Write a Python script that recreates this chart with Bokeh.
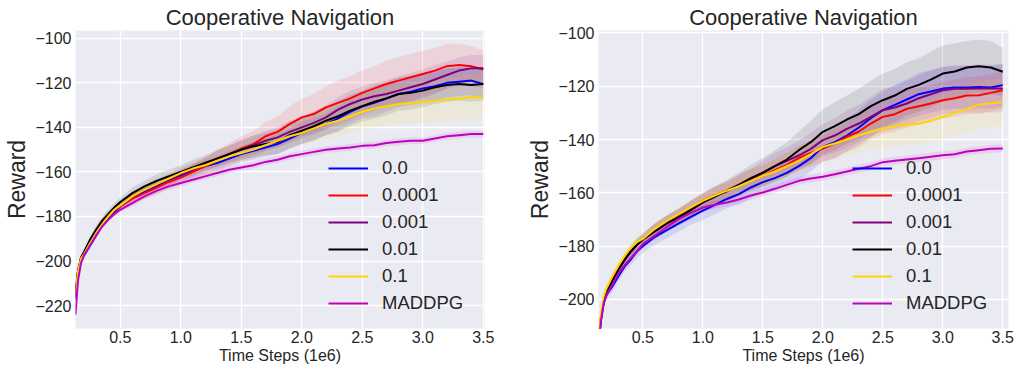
from bokeh.plotting import figure
from bokeh.layouts import row
from bokeh.models import Range1d, FixedTicker, Legend, LegendItem
from bokeh.embed import file_html
from bokeh.resources import INLINE

# ---------------- data ----------------
time_steps = [0.13, 0.15, 0.175, 0.2, 0.25, 0.3, 0.35, 0.4, 0.45, 0.5,
              0.6, 0.7, 0.8, 0.9, 1.0, 1.1, 1.2, 1.3, 1.4, 1.5,
              1.6, 1.7, 1.8, 1.9, 2.0, 2.1, 2.2, 2.3, 2.4, 2.5,
              2.6, 2.7, 2.8, 2.9, 3.0, 3.1, 3.2, 3.3, 3.4, 3.5]

labels = ["0.0", "0.0001", "0.001", "0.01", "0.1", "MADDPG"]

# left panel means
left_00 = [-217, -207, -199.5, -197.5, -193, -188.5, -184, -180.5, -178, -175.5,
           -171.5, -169, -166.5, -163.5, -161.5, -159.5, -157.5, -156, -154, -152,
           -150.5, -149, -147.5, -145, -142.5, -140.5, -138.5, -136, -133, -130.5,
           -129, -127, -125, -124, -122.5, -121.5, -120, -119.5, -119, -120.5]
left_0001 = [-214, -205, -199, -196.5, -191, -186.5, -182.5, -179.5, -177.5, -175.5,
             -172, -169.5, -167, -164.5, -162.5, -160, -157.5, -155, -152, -149.5,
             -147.5, -144, -142, -138.5, -135.5, -134, -131, -129, -127, -124.5,
             -122.5, -120.5, -119, -117.5, -116, -114.5, -112.5, -112, -112.5, -114]
left_001 = [-214, -204.5, -199, -196.5, -191.5, -187, -183, -180, -177.5, -175,
            -171, -168, -165.5, -163.5, -161, -159, -156.5, -154, -152, -150,
            -148, -146, -144.5, -142, -140, -138, -135.5, -132, -129.5, -127.5,
            -126, -125, -123.5, -122, -120.5, -118.5, -116.5, -114.5, -113.5, -113.5]
left_01 = [-215, -205, -198.5, -196, -190.5, -186, -182, -179, -176, -173.5,
           -169.5, -166.5, -164, -162, -160, -158, -156, -154, -152, -150,
           -148.5, -147.5, -146.5, -143.5, -141.5, -139.5, -137, -135, -132.5, -130.5,
           -128.5, -127, -125, -124.5, -123.5, -122, -121, -120.5, -121, -120.5]
left_1 = [-215, -205, -199, -197, -192, -187.5, -183.5, -180, -177, -175,
          -171, -168, -165.5, -163, -160.5, -158.5, -157, -155, -153, -151.5,
          -150, -148, -146, -144, -142.5, -140.5, -138.5, -137, -135, -133,
          -131.5, -130.5, -129.5, -129, -128.5, -128, -127.5, -127, -126.5, -126]
left_maddpg = [-224, -209, -201, -197.5, -193, -188.5, -184.5, -181.5, -179, -177,
               -174, -171, -168.5, -166.5, -165, -163.5, -162, -160.5, -159, -158,
               -157, -155.5, -154.5, -153, -152, -151, -150, -149.5, -149, -148.3,
               -148, -147, -146.5, -146, -146, -145, -144, -143.5, -143, -143]

# left panel band half-widths
left_00_sd = [2.5, 2, 1.5, 1.5, 1.5, 1.5, 1.5, 1.5, 1.5, 2, 2, 2, 2.5, 2.5, 2.5, 3, 3, 3, 3.5, 3.5,
              4, 4, 4.5, 4.5, 5, 5, 5, 5.5, 5.5, 5.5, 6, 6, 6, 6, 6.5, 6.5, 6.5, 6.5, 6.5, 6.5]
left_0001_sd = [2.5, 2, 1.5, 1.5, 1.5, 1.5, 2, 2, 2, 2, 2.5, 2.5, 3, 3, 3, 3.5, 4, 4.5, 5, 5.5,
                6, 6.5, 7, 8, 8.5, 9, 9.5, 10, 10, 10, 10, 10.5, 10.5, 10.5, 10.5, 10, 10, 9.5, 9, 8.5]
left_001_sd = [2.5, 2, 1.5, 1.5, 1.5, 1.5, 1.5, 1.5, 1.5, 2, 2, 2, 2.5, 2.5, 3, 3, 3, 3.5, 3.5, 4,
               4, 4.5, 4.5, 5, 5, 5, 5.5, 5.5, 6, 6, 6, 6, 6.5, 6.5, 6.5, 6.5, 6, 6, 6, 6]
left_01_sd = [2.5, 2, 1.5, 1.5, 1.5, 2, 2, 2, 2, 2, 2.5, 2.5, 3, 3, 3, 3.5, 3.5, 4, 4, 4.5,
              5, 5, 5.5, 6, 6, 6.5, 6.5, 7, 7, 7, 7.5, 7.5, 7.5, 7.5, 7.5, 7.5, 7.5, 7.5, 7.5, 7.5]
left_1_sd = [2.5, 2, 1.5, 1.5, 1.5, 1.5, 1.5, 1.5, 1.5, 2, 2, 2, 2.5, 2.5, 2.5, 3, 3, 3.5, 3.5, 4,
             4, 4.5, 5, 5, 5.5, 6, 6.5, 7, 7.5, 8, 8.5, 8.5, 9, 9, 9.5, 9.5, 10, 10, 10, 10]
left_maddpg_sd = [2, 1.5, 1.5, 1, 1, 1, 1, 1, 1, 1, 1.5, 1.5, 1.5, 1.5, 1.5, 1.5, 1.5, 1.5, 1.5, 1.5,
                  1.5, 1.5, 1.5, 1.5, 1.5, 1.5, 1.5, 1.5, 1.5, 1.5, 1.5, 1.5, 1.5, 1.5, 1.5, 1.5, 1.5, 1.5, 1.5, 1.5]

# right panel means
right_00 = [-218, -208, -201, -198, -194.8, -191, -187.5, -185, -182, -180,
            -176.5, -174, -171.5, -169, -166.7, -164.5, -162.3, -160.5, -158, -156,
            -154.5, -152.5, -150, -147, -142.75, -141, -138.5, -135.5, -132, -129,
            -127, -125, -123, -122, -120.9, -120.5, -120.5, -120.25, -120.5, -119.6]
right_0001 = [-216, -207, -200, -197, -192.5, -188.5, -185, -182, -179.5, -177.5,
              -174, -171, -168.5, -166, -163, -161, -159.2, -157, -155, -153.6,
              -151.5, -149.5, -147, -145, -143.4, -141.5, -139, -137, -134, -131.5,
              -130.5, -128.5, -127.5, -126.5, -125.25, -124.5, -123.5, -123.4, -122.5, -121.5]
right_001 = [-216, -207, -200, -197, -192.5, -188.5, -185, -182, -179.5, -177.5,
             -174, -171, -168.5, -166, -163.5, -161, -159.5, -157, -155, -152.5,
             -150, -148, -146, -143.5, -140.25, -138.5, -136, -134, -131.5, -129,
             -128, -126.5, -124.5, -123, -121.5, -121, -121, -120.9, -120.9, -120.9]
right_01 = [-216, -207, -200, -197, -192.5, -188.5, -185, -182, -179.5, -177.5,
            -174.5, -171.5, -169.2, -166.5, -163.6, -161.5, -159.2, -157, -154.5, -152.4,
            -150, -147.5, -144, -141, -137.1, -135, -132.5, -130.5, -127.5, -125.25,
            -123.5, -121, -119.5, -117.5, -115.25, -114.5, -113, -112.5, -113, -114.6]
right_1 = [-215, -205, -198.5, -195.5, -191, -187, -183.5, -180.5, -178.5, -177.3,
           -173.5, -170.5, -168, -165.5, -163, -161, -159.2, -157.5, -155.5, -153.6,
           -152, -150, -148, -145.5, -142.75, -141.5, -140, -138.5, -137, -135.9,
           -135, -134.5, -134, -133, -131.5, -130, -128.5, -127, -126.5, -125.9]
right_maddpg = [-218, -208, -201, -198, -194, -190, -187, -184.5, -182, -179.2,
                -176, -172.8, -169.8, -167.5, -165.5, -164.5, -163.6, -162.5, -161, -159.9,
                -158.5, -157, -155.5, -154.6, -154, -153, -152, -151, -150, -148.5,
                -148, -147.5, -147, -146.5, -145.9, -145.5, -144.5, -144, -143.5, -143.4]

# right panel band half-widths
right_00_sd = [2.5, 2, 2, 2, 2, 2, 2, 2, 2.5, 2.5, 3, 3, 3, 3, 3.5, 3.5, 3.5, 4, 4, 4,
               4.5, 4.5, 5, 5, 5.5, 6, 6, 6.5, 7, 7, 7.5, 7.5, 8, 8, 8, 8, 8, 8, 8, 8]
right_0001_sd = [2.5, 2, 2, 2, 2, 2, 2, 2, 2, 2, 2.5, 2.5, 2.5, 3, 3, 3, 3.5, 3.5, 4, 4,
                 4, 4.5, 4.5, 5, 5, 5.5, 5.5, 6, 6, 6.5, 6.5, 7, 7, 7, 7, 7, 7, 7, 7, 7]
right_001_sd = [2.5, 2, 2, 2, 2, 2, 2, 2, 2, 2, 2.5, 2.5, 3, 3, 3, 3.5, 3.5, 4, 4, 4.5,
                5, 5, 5.5, 6, 6, 6.5, 7, 7, 7.5, 8, 8, 8.5, 8.5, 9, 9, 9, 9, 9, 9, 9]
right_01_sd = [2.5, 2, 2, 2, 2, 2, 2, 2, 2.5, 2.5, 3, 3, 3, 3.5, 3.5, 4, 4, 4.5, 5, 5.5,
               6, 6.5, 7, 8, 8.5, 9, 9, 9.5, 9.5, 10, 10, 10, 10, 10.5, 10.5, 10.5, 10, 10, 10, 9]
right_1_sd = [2.5, 2, 2, 2, 2, 2, 2, 2, 2, 2, 2.5, 2.5, 2.5, 3, 3, 3, 3.5, 3.5, 4, 4,
              4.5, 4.5, 5, 5, 5.5, 6, 6, 6.5, 7, 7, 7.5, 7.5, 8, 8, 8.5, 8.5, 9, 9, 9, 9]
right_maddpg_sd = [2, 1.5, 1.5, 1, 1, 1, 1, 1, 1, 1, 1.5, 1.5, 1.5, 1.5, 1.5, 1.5, 1.5, 1.5, 1.5, 1.5,
                   1.5, 1.5, 1.5, 1.5, 1.5, 1.5, 1.5, 1.5, 1.5, 1.5, 1.5, 1.5, 1.5, 1.5, 1.5, 1.5, 1.5, 1.5, 1.5, 1.5]

x_ticks = [0.5, 1.0, 1.5, 2.0, 2.5, 3.0, 3.5]
x_tick_labels = ["0.5", "1.0", "1.5", "2.0", "2.5", "3.0", "3.5"]
left_y_ticks = [-220, -200, -180, -160, -140, -120, -100]
right_y_ticks = [-200, -180, -160, -140, -120, -100]

colors = ["#0000ff", "#ff0000", "#800080", "#000000", "#ffd700", "#bf00bf"]

FONT = "Liberation Sans"
TXT = "#262626"


def panel(means, sds, x_end, y_start, y_end, y_ticks, border_left, border_right, legend_x):
    p = figure(width=509, height=369, output_backend="svg", toolbar_location=None,
               x_range=Range1d(time_steps[0], x_end), y_range=Range1d(y_start, y_end),
               min_border_left=border_left, min_border_right=border_right,
               min_border_top=30, min_border_bottom=41,
               background_fill_color="#eaeaf2", border_fill_color="white",
               outline_line_color=None)
    p.title.text = "Cooperative Navigation"
    p.title.text_font = FONT
    p.title.text_font_size = "22px"
    p.title.text_font_style = "normal"
    p.title.text_color = TXT
    p.title.align = "center"
    p.title.standoff = 1

    for m, s, c in zip(means, sds, colors):
        lo = [a - b for a, b in zip(m, s)]
        hi = [a + b for a, b in zip(m, s)]
        p.varea(x=time_steps, y1=lo, y2=hi, fill_color=c, fill_alpha=0.1)

    items = []
    for m, c, lab in zip(means, colors, labels):
        r = p.line(time_steps, m, line_color=c, line_width=2)
        items.append(LegendItem(label=lab, renderers=[r]))

    p.xaxis.ticker = FixedTicker(ticks=x_ticks)
    p.xaxis.major_label_overrides = {t: l for t, l in zip(x_ticks, x_tick_labels)}
    p.yaxis.ticker = FixedTicker(ticks=y_ticks)
    p.yaxis.major_label_overrides = {t: "\u2212" + str(abs(t)) for t in y_ticks}
    p.xaxis.axis_label = "Time Steps (1e6)"
    p.yaxis.axis_label = "Reward"
    for ax in (p.xaxis[0], p.yaxis[0]):
        ax.axis_line_color = None
        ax.major_tick_line_color = None
        ax.minor_tick_line_color = None
        ax.major_tick_out = 0
        ax.major_tick_in = 0
        ax.minor_tick_out = 0
        ax.minor_tick_in = 0
        ax.major_label_text_font = FONT
        ax.major_label_text_color = TXT
        ax.axis_label_text_font = FONT
        ax.axis_label_text_color = TXT
        ax.axis_label_text_font_style = "normal"
    p.xaxis.major_label_text_font_size = "16px"
    p.yaxis.major_label_text_font_size = "16px"
    p.xaxis.axis_label_text_font_size = "16px"
    p.yaxis.axis_label_text_font_size = "23px"
    p.xaxis.major_label_standoff = 2
    p.xaxis.axis_label_standoff = 1
    p.yaxis.major_label_standoff = 4
    p.yaxis.axis_label_standoff = 2

    p.grid.grid_line_color = "white"
    p.grid.grid_line_width = 1.3

    leg = Legend(items=items, location=(legend_x, 13), margin=0, padding=0,
                 background_fill_alpha=0, border_line_alpha=0,
                 glyph_width=40, glyph_height=24, label_height=24, spacing=3,
                 label_standoff=14, label_text_font=FONT, label_text_font_size="18.5px",
                 label_text_color=TXT)
    p.add_layout(leg)
    return p


p1 = panel([left_00, left_0001, left_001, left_01, left_1, left_maddpg],
           [left_00_sd, left_0001_sd, left_001_sd, left_01_sd, left_1_sd, left_maddpg_sd],
           3.51, -230.3, -96.5, left_y_ticks, 75, 25, 253)
p2 = panel([right_00, right_0001, right_001, right_01, right_1, right_maddpg],
           [right_00_sd, right_0001_sd, right_001_sd, right_01_sd, right_1_sd, right_maddpg_sd],
           3.548, -210.9, -99.1, right_y_ticks, 89, 10, 254)

layout = row(p1, p2)
open("out.html", "w").write(file_html(layout, INLINE))
